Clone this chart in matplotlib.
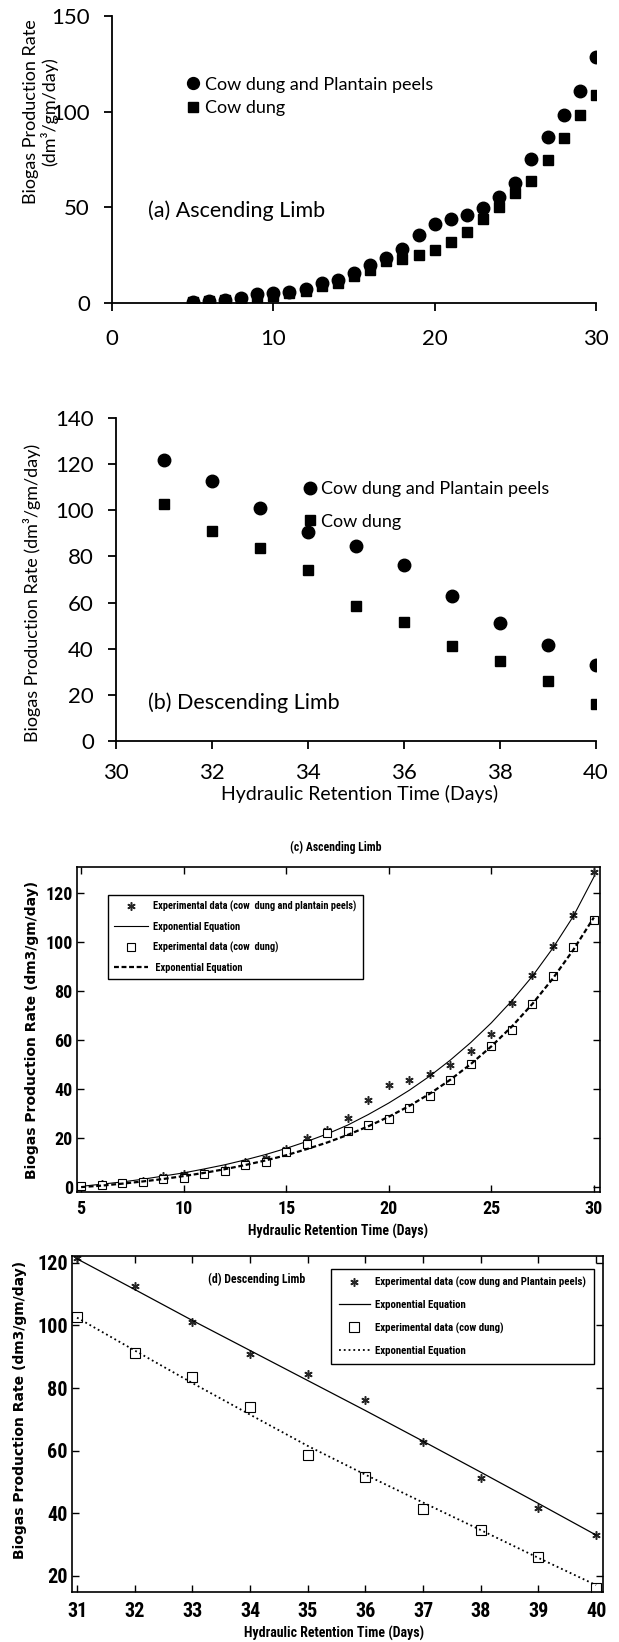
import matplotlib
matplotlib.use("Agg")
import matplotlib.pyplot as plt

# ascending limb, days 5-30 (panels a and c)
asc_days = list(range(5, 31))
asc_mix = [0.5, 1.2, 1.7, 2.4, 4.7, 5.2, 5.9, 7.3, 10.2, 12.0, 15.6, 20.0, 23.3,
           28.0, 35.6, 41.5, 43.8, 46.2, 49.8, 55.4, 62.5, 75.3, 86.6, 98.4,
           110.9, 128.5]
asc_cow = [0.3, 1.0, 1.5, 2.0, 3.3, 3.8, 5.2, 6.4, 9.0, 10.4, 14.2, 17.4, 22.0,
           23.0, 25.2, 27.6, 32.1, 37.3, 43.8, 50.3, 57.6, 64.0, 74.7, 86.3,
           98.1, 108.9]
# exponential equation curves
asc_mix_fit = [0.3, 1.2, 2.1, 3.2, 4.5, 5.8, 7.4, 9.1, 11.1, 13.3, 15.8, 18.6,
               21.7, 25.3, 29.6, 34.3, 39.5, 45.3, 51.8, 59.0, 67.0, 76.0,
               86.0, 97.5, 110.5, 126.5]
asc_cow_fit = [0.0, 0.6, 1.4, 2.3, 3.3, 4.5, 5.8, 7.3, 9.0, 10.9, 13.0, 15.5,
               18.2, 21.3, 24.8, 28.7, 33.1, 38.1, 43.8, 50.2, 57.4, 65.5,
               74.7, 85.1, 96.8, 110.0]

# descending limb, days 31-40 (panels b and d)
desc_days = list(range(31, 41))
desc_mix = [121.6, 112.5, 101.2, 90.8, 84.6, 76.2, 62.8, 51.3, 41.6, 32.9]
desc_cow = [102.6, 91.1, 83.5, 74.0, 58.6, 51.7, 41.3, 34.7, 25.9, 16.1]
desc_mix_fit = [121.3, 111.5, 101.6, 92.0, 82.4, 72.8, 63.0, 53.1, 43.1, 33.0]
desc_cow_fit = [102.5, 92.0, 81.6, 71.5, 61.5, 52.3, 43.4, 34.6, 25.7, 17.0]

LAB_MIX = "Cow dung and Plantain peels"
LAB_COW = "Cow dung"
YLAB = "Biogas Production Rate (dm\u00b3/gm/day)"
XLAB = "Hydraulic Retention Time (Days)"

SANS = ["Lato", "DejaVu Sans"]
# narrowest faces first, whichever is installed gets used
NARROW = ["Roboto Condensed", "Liberation Sans Narrow", "DejaVu Sans Condensed",
          "Noto Sans Condensed", "Open Sans Condensed", "Roboto", "DejaVu Sans"]

W, H = 619, 1642
fig = plt.figure(figsize=(W / 100, H / 100), dpi=100)


def box(left, right, top, bottom):
    # pixel box -> figure fraction rect
    return [left / W, 1 - bottom / H, (right - left) / W, (bottom - top) / H]


def narrow(size):
    return {"family": NARROW, "weight": "bold", "stretch": "condensed",
            "size": size}


def excel_style(ax):
    for s in ("top", "right"):
        ax.spines[s].set_visible(False)
    for s in ("left", "bottom"):
        ax.spines[s].set_linewidth(1.3)
    ax.tick_params(direction="out", length=6, width=1.3, labelsize=16)
    for lab in ax.get_xticklabels() + ax.get_yticklabels():
        lab.set_family(SANS)


def matlab_style(ax, size):
    for s in ax.spines.values():
        s.set_linewidth(1.2)
    ax.tick_params(direction="in", length=5, width=1.0, top=True, right=True,
                   labelsize=size)
    for lab in ax.get_xticklabels() + ax.get_yticklabels():
        lab.set_family(NARROW)
        lab.set_fontweight("bold")
        lab.set_fontstretch("condensed")


# ---- (a) ascending limb, Excel style
ax1 = fig.add_axes(box(112, 596, 16, 303))
ax1.plot(asc_days, asc_mix, "o", color="black", ms=9, label=LAB_MIX)
ax1.plot(asc_days, asc_cow, "s", color="black", ms=7, label=LAB_COW)
ax1.set_xlim(0, 30)
ax1.set_ylim(0, 150)
ax1.set_xticks([0, 10, 20, 30])
ax1.set_yticks([0, 50, 100, 150])
excel_style(ax1)
ax1.tick_params(axis="x", pad=13)
ax1.tick_params(axis="y", pad=10)
ax1.set_ylabel("Biogas Production Rate\n(dm\u00b3/gm/day)", family=SANS,
               fontsize=13, va="center", linespacing=1.05)
ax1.yaxis.set_label_coords(-0.147, 0.666)
ax1.text(0.074, 0.32, "(a) Ascending Limb", transform=ax1.transAxes,
         family=SANS, fontsize=15.5, va="center")
ax1.legend(loc="upper left", bbox_to_anchor=(0.155, 0.789), frameon=False,
           prop={"family": SANS, "size": 13}, handlelength=0.7,
           handletextpad=0.3, labelspacing=0.42, borderpad=0,
           borderaxespad=0, markerscale=0.95)

# ---- (b) descending limb, Excel style
ax2 = fig.add_axes(box(116, 596, 418, 741))
ax2.plot(desc_days, desc_mix, "o", color="black", ms=9, label=LAB_MIX)
ax2.plot(desc_days, desc_cow, "s", color="black", ms=7, label=LAB_COW)
ax2.set_xlim(30, 40)
ax2.set_ylim(0, 140)
ax2.set_xticks(range(30, 41, 2))
ax2.set_yticks(range(0, 141, 20))
excel_style(ax2)
ax2.tick_params(axis="x", pad=10)
ax2.tick_params(axis="y", pad=10)
ax2.set_ylabel(YLAB, family=SANS, fontsize=13, va="center")
ax2.yaxis.set_label_coords(-0.175, 0.458)
ax2.set_xlabel(XLAB, family=SANS, fontsize=14, va="center")
ax2.xaxis.set_label_coords(0.508, -0.164)
ax2.text(0.067, 0.118, "(b) Descending Limb", transform=ax2.transAxes,
         family=SANS, fontsize=15.5, va="center")
ax2.legend(loc="upper left", bbox_to_anchor=(0.39, 0.805), frameon=False,
           prop={"family": SANS, "size": 13}, handlelength=0.7,
           handletextpad=0.3, labelspacing=0.92, borderpad=0,
           borderaxespad=0)

# ---- (c) ascending limb with exponential fit, MATLAB style
ax3 = fig.add_axes(box(77, 600, 867, 1192))
ax3.plot(asc_days, asc_mix, ls="none", marker=(6, 2, 0), ms=6, mew=1.1,
         color="0.15", label="Experimental data (cow  dung and plantain peels)")
ax3.plot(asc_days, asc_mix_fit, "-", color="black", lw=0.8,
         label="Exponential Equation")
ax3.plot(asc_days, asc_cow, ls="none", marker="s", ms=6, mew=0.8,
         mfc="white", mec="black", label="Experimental data (cow  dung)")
ax3.plot(asc_days, asc_cow_fit, "--", color="black", lw=1.6,
         dashes=(2.2, 1.2), label=" Exponential Equation")
ax3.set_xlim(4.8, 30.3)
ax3.set_ylim(-2, 130.6)
ax3.set_xticks(range(5, 31, 5))
ax3.set_yticks(range(0, 121, 20))
matlab_style(ax3, 13)
ax3.tick_params(axis="x", pad=6)
ax3.tick_params(axis="y", pad=3)
ax3.set_ylabel(YLAB.replace("\u00b3", "3"), family="DejaVu Sans",
               fontweight="bold", fontsize=10, va="center")
ax3.yaxis.set_label_coords(-0.086, 0.5)
ax3.set_xlabel(XLAB, fontdict=narrow(10), va="center")
ax3.xaxis.set_label_coords(0.5, -0.123)
ax3.text(0.495, 1.0615, "(c) Ascending Limb", transform=ax3.transAxes,
         fontdict=narrow(8.5), ha="center", va="center")
leg3 = ax3.legend(loc="upper left", bbox_to_anchor=(0.059, 0.914),
                  prop=narrow(7.5), fancybox=False, edgecolor="black",
                  framealpha=1, handlelength=3.3, handletextpad=0.5,
                  labelspacing=0.94, borderpad=0.57, borderaxespad=0)
leg3.get_frame().set_linewidth(1.0)

# ---- (d) descending limb with exponential fit, MATLAB style
ax4 = fig.add_axes(box(72, 603, 1256, 1592))
ax4.plot(desc_days, desc_mix, ls="none", marker=(6, 2, 0), ms=6, mew=1.1,
         color="0.15", label="Experimental data (cow dung and Plantain peels)")
ax4.plot(desc_days, desc_mix_fit, "-", color="black", lw=0.9,
         label="Exponential Equation")
ax4.plot(desc_days, desc_cow, ls="none", marker="s", ms=6.5, mew=0.8,
         mfc="white", mec="black", label="Experimental data (cow dung)")
ax4.plot(desc_days, desc_cow_fit, ":", color="black", lw=1.3,
         label="Exponential Equation")
ax4.set_xlim(30.913, 40.12)
ax4.set_ylim(14.8, 122.2)
ax4.set_xticks(desc_days)
ax4.set_yticks(range(20, 121, 20))
matlab_style(ax4, 14.5)
ax4.tick_params(axis="x", pad=7)
ax4.tick_params(axis="y", pad=3)
ax4.set_ylabel(YLAB.replace("\u00b3", "3"), family="DejaVu Sans",
               fontweight="bold", fontsize=10, va="center")
ax4.yaxis.set_label_coords(-0.098, 0.542)
ax4.set_xlabel(XLAB, fontdict=narrow(10), va="center")
ax4.xaxis.set_label_coords(0.493, -0.122)
ax4.text(0.348, 0.929, "(d) Descending Limb", transform=ax4.transAxes,
         fontdict=narrow(8.5), ha="center", va="center")
leg4 = ax4.legend(loc="upper right", bbox_to_anchor=(0.983, 0.961),
                  prop=narrow(7.8), fancybox=False, edgecolor="black",
                  framealpha=1, handlelength=2.9, handletextpad=0.5,
                  labelspacing=1.13, borderpad=0.7, borderaxespad=0)
leg4.get_frame().set_linewidth(1.0)

fig.savefig("out.png", dpi=100)
